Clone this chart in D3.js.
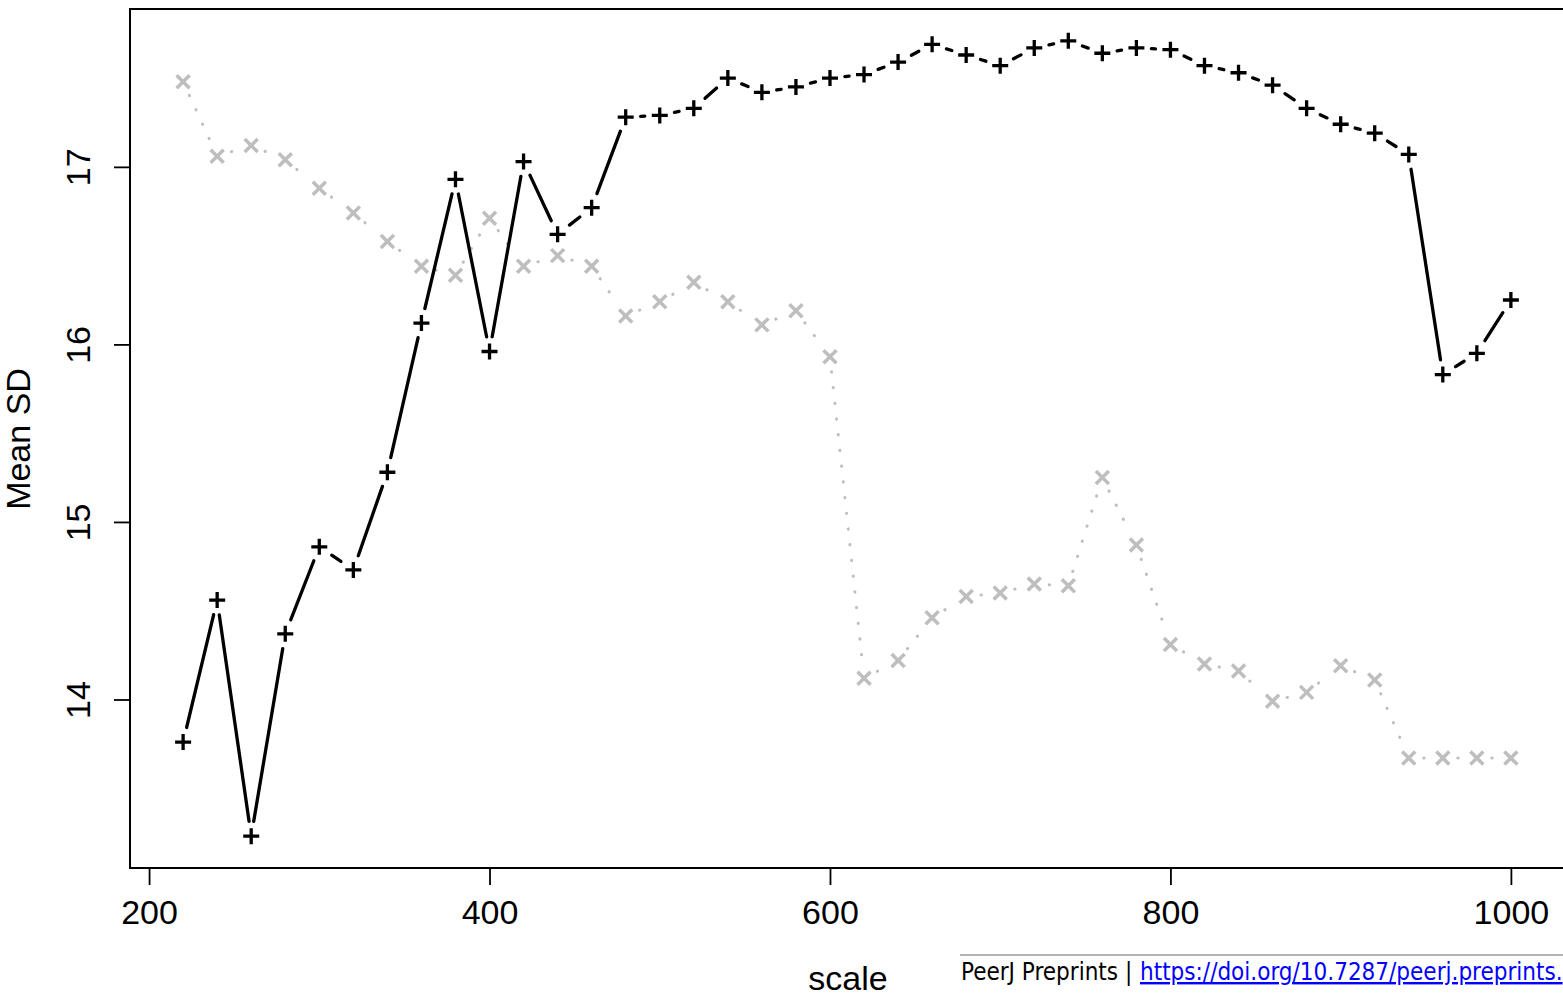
<!DOCTYPE html>
<html>
<head>
<meta charset="utf-8">
<script src="https://cdn.jsdelivr.net/npm/d3@7"></script>
<style>
  html, body { margin: 0; padding: 0; background: #fff; overflow: hidden; }
  svg { display: block; }
  text { font-family: "Liberation Sans", Arial, Helvetica, sans-serif; fill: #000; }
</style>
</head>
<body>
<svg id="chart" width="1563" height="999"></svg>
<script>
// Scale values on the x axis
const scaleValues = [220, 240, 260, 280, 300, 320, 340, 360, 380, 400,
                     420, 440, 460, 480, 500, 520, 540, 560, 580, 600,
                     620, 640, 660, 680, 700, 720, 740, 760, 780, 800,
                     820, 840, 860, 880, 900, 920, 940, 960, 980, 1000];

// Mean SD, series drawn with "+" markers (black, solid)
const meanSdPlus = [13.76, 14.56, 13.23, 14.37, 14.86, 14.73, 15.28, 16.12, 16.93, 15.96,
                    17.03, 16.62, 16.77, 17.28, 17.29, 17.33, 17.50, 17.42, 17.45, 17.50,
                    17.52, 17.59, 17.69, 17.63, 17.57, 17.67, 17.71, 17.64, 17.67, 17.66,
                    17.57, 17.53, 17.46, 17.33, 17.24, 17.19, 17.07, 15.83, 15.95, 16.25];

// Mean SD, series drawn with "x" markers (grey, dotted)
const meanSdCross = [17.48, 17.06, 17.12, 17.04, 16.88, 16.74, 16.58, 16.44, 16.39, 16.71,
                     16.44, 16.50, 16.44, 16.16, 16.24, 16.35, 16.24, 16.11, 16.19, 15.93,
                     14.12, 14.22, 14.46, 14.58, 14.60, 14.65, 14.64, 15.25, 14.87, 14.31,
                     14.20, 14.16, 13.99, 14.04, 14.19, 14.11, 13.67, 13.67, 13.67, 13.67];

const xTickValues = [200, 400, 600, 800, 1000];
const yTickValues = [14, 15, 16, 17];

const xLabel = "scale";
const yLabel = "Mean SD";

const svg = d3.select("#chart");

// Plot region and axis ranges padded by 4% on each side
const box = { left: 130, right: 1564, top: 9, bottom: 868 };
function padded(ext) {
  const d = (ext[1] - ext[0]) * 0.04;
  return [ext[0] - d, ext[1] + d];
}
const x = d3.scaleLinear()
  .domain(padded(d3.extent(scaleValues)))
  .range([box.left, box.right]);
const y = d3.scaleLinear()
  .domain(padded(d3.extent(meanSdPlus.concat(meanSdCross))))
  .range([box.bottom, box.top]);

// Line segments with gaps around each point (points-and-lines style)
function gappedSegments(xs, ys, gap) {
  const segs = [];
  for (let i = 0; i < xs.length - 1; i++) {
    const x0 = x(xs[i]), y0 = y(ys[i]), x1 = x(xs[i + 1]), y1 = y(ys[i + 1]);
    const dx = x1 - x0, dy = y1 - y0, len = Math.hypot(dx, dy);
    if (len <= 2 * gap) continue;
    const ux = dx / len, uy = dy / len;
    segs.push([x0 + ux * gap, y0 + uy * gap, x1 - ux * gap, y1 - uy * gap]);
  }
  return segs;
}

const plot = svg.append("g");

// Grey dotted series
const grey = "#bebebe";
plot.append("g").selectAll("line")
  .data(gappedSegments(scaleValues, meanSdCross, 15))
  .join("line")
  .attr("x1", d => d[0]).attr("y1", d => d[1])
  .attr("x2", d => d[2]).attr("y2", d => d[3])
  .attr("stroke", grey)
  .attr("stroke-width", 3)
  .attr("stroke-linecap", "round")
  .attr("stroke-dasharray", "0.3 15.5");

plot.append("g").selectAll("path")
  .data(scaleValues.map((s, i) => [s, meanSdCross[i]]))
  .join("path")
  .attr("d", d => {
    const cx = x(d[0]), cy = y(d[1]), r = 6.5;
    return `M${cx - r},${cy - r}L${cx + r},${cy + r}M${cx - r},${cy + r}L${cx + r},${cy - r}`;
  })
  .attr("stroke", grey)
  .attr("stroke-width", 3.5)
  .attr("fill", "none");

// Black solid series
plot.append("g").selectAll("line")
  .data(gappedSegments(scaleValues, meanSdPlus, 15))
  .join("line")
  .attr("x1", d => d[0]).attr("y1", d => d[1])
  .attr("x2", d => d[2]).attr("y2", d => d[3])
  .attr("stroke", "#000")
  .attr("stroke-width", 3.3)
  .attr("stroke-linecap", "round");

plot.append("g").selectAll("path")
  .data(scaleValues.map((s, i) => [s, meanSdPlus[i]]))
  .join("path")
  .attr("d", d => {
    const cx = x(d[0]), cy = y(d[1]), r = 8;
    return `M${cx - r},${cy}H${cx + r}M${cx},${cy - r}V${cy + r}`;
  })
  .attr("stroke", "#000")
  .attr("stroke-width", 3.3)
  .attr("fill", "none");

// Plot frame
svg.append("rect")
  .attr("x", box.left).attr("y", box.top)
  .attr("width", box.right - box.left).attr("height", box.bottom - box.top)
  .attr("fill", "none").attr("stroke", "#000").attr("stroke-width", 2);

// Bottom axis
const gx = svg.append("g")
  .attr("transform", `translate(0,${box.bottom})`)
  .call(d3.axisBottom(x).tickValues(xTickValues).tickSize(17).tickPadding(15).tickFormat(d3.format("d")));
gx.select(".domain").remove();
gx.selectAll(".tick line").attr("stroke", "#000").attr("stroke-width", 1.8);
gx.selectAll(".tick text")
  .attr("font-family", "'Liberation Sans', Arial, sans-serif")
  .attr("font-size", 34)
  .attr("fill", "#000");

// Left axis, labels parallel to the axis
const gy = svg.append("g")
  .attr("transform", `translate(${box.left},0)`)
  .call(d3.axisLeft(y).tickValues(yTickValues).tickSize(16).tickFormat(d3.format("d")));
gy.select(".domain").remove();
gy.selectAll(".tick line").attr("stroke", "#000").attr("stroke-width", 1.8);
gy.selectAll(".tick text")
  .attr("font-family", "'Liberation Sans', Arial, sans-serif")
  .attr("font-size", 34)
  .attr("fill", "#000")
  .attr("x", null).attr("dy", null)
  .attr("text-anchor", "middle")
  .attr("transform", "translate(-40,0) rotate(-90)");

// Axis titles
svg.append("text")
  .attr("x", 848).attr("y", 990)
  .attr("text-anchor", "middle")
  .attr("font-size", 34)
  .text(xLabel);

svg.append("text")
  .attr("transform", `translate(30,${(box.top + box.bottom) / 2 + 0.5}) rotate(-90)`)
  .attr("text-anchor", "middle")
  .attr("font-size", 34)
  .text(yLabel);

// Preprint footer
svg.append("line")
  .attr("x1", 960).attr("x2", 1563).attr("y1", 955).attr("y2", 955)
  .attr("stroke", "#b3b3b3").attr("stroke-width", 2);

const foot = svg.append("text")
  .attr("x", 961).attr("y", 980)
  .style("font-family", "'DejaVu Sans Condensed', 'DejaVu Sans', sans-serif")
  .attr("font-size", 24);
foot.append("tspan").text("PeerJ Preprints | ");
foot.append("tspan")
  .attr("x", 1140)
  .style("fill", "#0000ff")
  .style("text-decoration", "underline")
  .text("https://doi.org/10.7287/peerj.preprints.");
</script>
</body>
</html>
